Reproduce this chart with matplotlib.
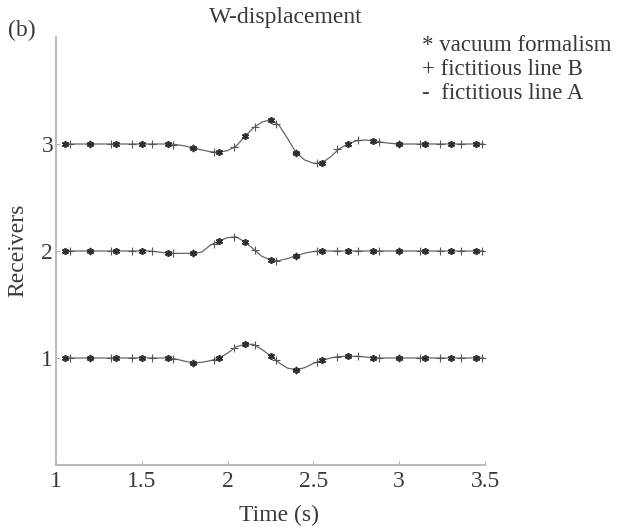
import matplotlib
matplotlib.use("Agg")
import matplotlib.pyplot as plt

# --- data ---
receivers = [1, 2, 3]

# solid line (fictitious line A), sampled densely by eye
line_t = [1.05, 1.55, 1.60, 1.65, 1.70, 1.75, 1.80, 1.85, 1.90, 1.95, 2.00, 2.05,
          2.10, 2.15, 2.20, 2.25, 2.30, 2.35, 2.40, 2.45, 2.50, 2.55, 2.60, 2.65,
          2.70, 2.75, 2.80, 2.85, 2.90, 2.95, 3.00, 3.49]
line_r1 = [0, 0, 0, 0, -0.01, -0.03, -0.044, -0.04, -0.025, 0.0, 0.045, 0.105,
           0.128, 0.128, 0.08, 0.02, -0.045, -0.095, -0.11, -0.09, -0.05, -0.022, 0.0, 0.014,
           0.016, 0.016, 0.01, 0.0, 0, 0, 0, 0]
line_r2 = [0, 0, -0.01, -0.02, -0.022, -0.022, -0.022, -0.01, 0.055, 0.093, 0.125, 0.132,
           0.085, 0.02, -0.05, -0.084, -0.09, -0.07, -0.044, -0.02, -0.005, 0, 0, 0,
           0, 0, 0, 0, 0, 0, 0, 0]
line_r3 = [0, 0, 0, 0, -0.005, -0.018, -0.037, -0.056, -0.072, -0.078, -0.062, -0.02,
           0.07, 0.15, 0.205, 0.227, 0.175, 0.05, -0.084, -0.15, -0.18, -0.178, -0.12, -0.045,
           0.0, 0.03, 0.037, 0.031, 0.016, 0.006, 0, 0]

# vacuum formalism (*)
star_t = [1.05, 1.20, 1.35, 1.50, 1.65, 1.80, 1.95, 2.10, 2.25, 2.40, 2.55, 2.70,
          2.85, 3.00, 3.15, 3.30, 3.45]
star_r1 = [0, 0, 0, 0, 0, -0.044, 0.0, 0.128, 0.02, -0.11, -0.022, 0.016,
           0.0, 0, 0, 0, 0]
star_r2 = [0, 0, 0, 0, -0.02, -0.022, 0.093, 0.085, -0.084, -0.044, 0, 0,
           0, 0, 0, 0, 0]
star_r3 = [0, 0, 0, 0, 0, -0.037, -0.078, 0.072, 0.227, -0.084, -0.178, 0.0,
           0.031, 0, 0, 0, 0]

# fictitious line B (+)
plus_t = [1.08, 1.20, 1.32, 1.44, 1.56, 1.68, 1.80, 1.92, 2.04, 2.16, 2.28, 2.40,
          2.52, 2.64, 2.76, 2.88, 3.00, 3.12, 3.24, 3.36, 3.48]
plus_r1 = [0, 0, 0, 0, 0, -0.005, -0.044, -0.015, 0.095, 0.125, -0.02, -0.11,
           -0.039, 0.012, 0.016, 0.0, 0, 0, 0, 0, 0]
plus_r2 = [0, 0, 0, 0, 0, -0.022, -0.022, 0.07, 0.132, 0.01, -0.09, -0.044,
           -0.003, 0, 0, 0, 0, 0, 0, 0, 0]
plus_r3 = [0, 0, 0, 0, 0, -0.005, -0.037, -0.074, -0.025, 0.16, 0.19, -0.084,
           -0.18, -0.05, 0.034, 0.018, 0, 0, 0, 0, 0]

x_ticks = [1, 1.5, 2, 2.5, 3, 3.5]
x_ticklabels = ["1", "1.5", "2", "2.5", "3", "3.5"]

TEXT = "#3a3a3a"
AXIS = "#b5b5b5"
FS = 17

plt.rcParams["font.family"] = ["Liberation Serif", "DejaVu Serif"]

fig = plt.figure(figsize=(6.18, 5.27), dpi=100)
W, H = 618, 527
ax = fig.add_axes([56 / W, (H - 465) / H, (485 - 56) / W, (465 - 37) / H])

lines = [line_r1, line_r2, line_r3]
stars = [star_r1, star_r2, star_r3]
pluses = [plus_r1, plus_r2, plus_r3]
for rec, ln, st, pl in zip(receivers, lines, stars, pluses):
    ax.plot(line_t, [rec + v for v in ln], color="#666666", lw=0.9, zorder=2)
    ax.plot(plus_t, [rec + v for v in pl], ls="none", marker="+", ms=6,
            mew=0.8, color="#555555", zorder=3)
    # MATLAB-style asterisk
    ax.plot(star_t, [rec + v for v in st], ls="none", marker=(6, 2, 0), ms=5,
            mew=1.2, color="#2e2e2e", zorder=4)

ax.set_xlim(1, 3.5)
ax.set_ylim(0, 4)
ax.set_xticks(x_ticks)
ax.set_xticklabels(x_ticklabels)
ax.set_yticks(receivers)
ax.set_yticklabels([str(r) for r in receivers])

for side in ["top", "right"]:
    ax.spines[side].set_visible(False)
for side in ["left", "bottom"]:
    ax.spines[side].set_color(AXIS)
    ax.spines[side].set_linewidth(1.3)
ax.tick_params(axis="both", direction="in", length=3, width=0.8, color=AXIS,
               labelsize=FS, labelcolor=TEXT)
ax.tick_params(axis="x", pad=4)
ax.tick_params(axis="y", pad=2)

fig.text(286 / W, 1 - 23 / H, "W-displacement", ha="center", va="baseline",
         fontsize=FS, color=TEXT)
fig.text(8 / W, 1 - 36 / H, "(b)", ha="left", va="baseline", fontsize=FS, color=TEXT)
fig.text(18 / W, 1 - 250 / H, "Receivers", ha="center", va="center",
         rotation=90, fontsize=FS, color=TEXT)
fig.text(279 / W, 1 - 515 / H, "Time (s)", ha="center", va="center",
         fontsize=FS, color=TEXT)

legend_lines = ["* vacuum formalism", "+ fictitious line B", "-  fictitious line A"]
legend_base = [51, 75, 99]
for txt, yb in zip(legend_lines, legend_base):
    fig.text(422 / W, 1 - yb / H, txt, ha="left", va="baseline",
             fontsize=16.5, color=TEXT)

fig.savefig("out.png", dpi=100)
